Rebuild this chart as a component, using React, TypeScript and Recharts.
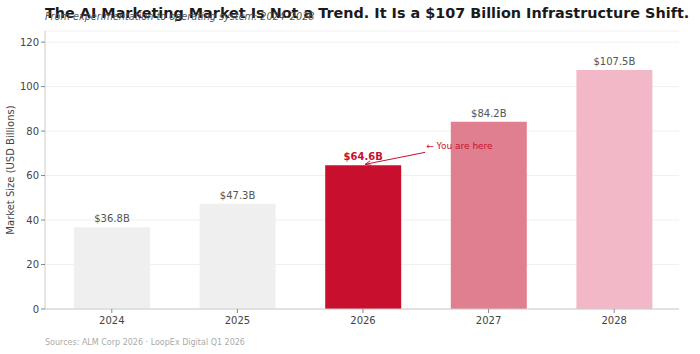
import { BarChart, Bar, XAxis, YAxis, CartesianGrid, LabelList, Cell } from "recharts";

const years = ["2024", "2025", "2026", "2027", "2028"];
const marketSize = [36.8, 47.3, 64.6, 84.2, 107.5];
const barColors = ["#efefef", "#efefef", "#c8102e", "#e07f8f", "#f2b8c8"];
const yTicks = [0, 20, 40, 60, 80, 100, 120];
const highlightIndex = 2;

const data = years.map((year, i) => ({ year, value: marketSize[i] }));

const FONT = "DejaVu Sans, Verdana, sans-serif";

const BarLabel = (props: any) => {
  const { x, y, width, value, index } = props;
  const cx = x + width / 2;
  const text = `$${value.toFixed(1)}B`;
  if (index === highlightIndex) {
    return (
      <g>
        <text x={cx} y={y - 5} textAnchor="middle" fill="#c8102e" fontSize={10} fontWeight="bold" fontFamily={FONT}>
          {text}
        </text>
        <line x1={cx + 62} y1={y - 13} x2={cx + 2} y2={y - 1} stroke="#c8102e" strokeWidth={1} />
        <path d={`M ${cx + 2} ${y - 1} l 5 -3.5 M ${cx + 2} ${y - 1} l 6 1`} stroke="#c8102e" fill="none" strokeWidth={1} />
        <text x={cx + 63} y={y - 16} fill="#c8102e" fontSize={9} fontFamily={FONT}>
          ← You are here
        </text>
      </g>
    );
  }
  return (
    <text x={cx} y={y - 5} textAnchor="middle" fill="#555" fontSize={10} fontFamily={FONT}>
      {text}
    </text>
  );
};

export default function App() {
  return (
    <div style={{ position: "absolute", left: 0, top: 0, width: 700, height: 354, background: "#fff", fontFamily: FONT }}>
      <BarChart width={700} height={354} data={data} margin={{ top: 31, right: 21, bottom: 15, left: 0 }}>
        <CartesianGrid vertical={false} stroke="#f0f0f0" strokeWidth={1} />
        <XAxis
          dataKey="year"
          height={30}
          padding={{ left: 4, right: 2 }}
          tick={{ fill: "#444", fontSize: 10, fontFamily: FONT }}
          tickLine={{ stroke: "#888" }}
          tickSize={4}
          tickMargin={4}
          axisLine={{ stroke: "#ccc" }}
        />
        <YAxis
          width={45}
          domain={[0, 125]}
          ticks={yTicks}
          tick={{ fill: "#444", fontSize: 10, fontFamily: FONT }}
          tickLine={{ stroke: "#888" }}
          tickSize={4}
          axisLine={{ stroke: "#ccc" }}
        />
        <Bar dataKey="value" barSize={76} isAnimationActive={false}>
          {data.map((d, i) => (
            <Cell key={d.year} fill={barColors[i]} />
          ))}
          <LabelList dataKey="value" content={<BarLabel />} />
        </Bar>
        <text x={45} y={18} fontSize={14.4} fontWeight="bold" fill="#1a1a1a" fontFamily={FONT}>
          The AI Marketing Market Is Not a Trend. It Is a $107 Billion Infrastructure Shift.
        </text>
        <text x={45} y={20} fontSize={9.7} fontStyle="italic" fill="#555" fontFamily={FONT}>
          From experimentation to operating system: 2024–2028
        </text>
        <text
          x={14}
          y={170}
          transform="rotate(-90 14 170)"
          textAnchor="middle"
          fontSize={10}
          fill="#444"
          fontFamily={FONT}
        >
          Market Size (USD Billions)
        </text>
        <text x={45} y={345} fontSize={8} fill="#aaa" fontFamily={FONT}>
          Sources: ALM Corp 2026 · LoopEx Digital Q1 2026
        </text>
      </BarChart>
    </div>
  );
}
